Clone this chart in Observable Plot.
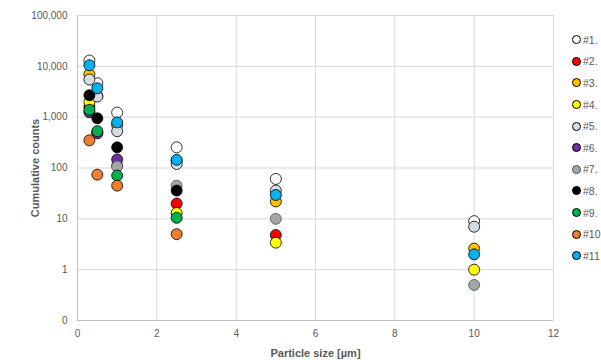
<!DOCTYPE html>
<html>
<head>
<meta charset="utf-8">
<script src="https://cdn.jsdelivr.net/npm/d3@7"></script>
<script src="https://cdn.jsdelivr.net/npm/@observablehq/plot@0.6"></script>
<style>
  body { margin: 0; background: #fff; }
  #wrap { position: relative; width: 601px; height: 360px; font-family: "Liberation Sans", Arial, sans-serif; }
  #legend { position: absolute; left: 572px; top: 29px; }
  .li { height: 21.6px; display: flex; align-items: center; font-size: 10.5px; color: #595959; }
  .mk { width: 7px; height: 7px; border-radius: 50%; border: 1px solid #000; margin-right: 2px; }
</style>
</head>
<body>
<div id="wrap"><div id="chart"></div><div id="legend"></div></div>
<script>
const sizes = [0.3, 0.5, 1, 2.5, 5, 10];
const seriesNames = ["#1.", "#2.", "#3.", "#4.", "#5.", "#6.", "#7.", "#8.", "#9.", "#10", "#11"];
const fills   = ["#ffffff", "#ff0000", "#ffc000", "#ffff00", "#d6dce4", "#7030a0", "#a5a5a5", "#000000", "#00b050", "#ed7d31", "#00b0f0"];
const strokes = ["#000", "#000", "#000", "#000", "#000", "#000", "#44546a", "#000", "#000", "#000", "#000"];
const s1  = [13000, 4650, 1230, 255, 61, 9];
const s2  = [1600, 500, 110, 20, 4.8, null];
const s3  = [7000, 2600, 700, 140, 22, 2.6];
const s4  = [2000, null, null, 13, 3.4, 1.0];
const s5  = [5500, 2550, 530, 120, 36, 7];
const s6  = [1250, 480, 147, null, null, null];
const s7  = [null, null, 107, 45, 10, 0.5];
const s8  = [2700, 950, 255, 36, null, null];
const s9  = [1400, 530, 71, 10.5, null, null];
const s10 = [350, 74, 45, 5, null, null];
const s11 = [10500, 3700, 790, 145, 29.5, 2.0];
const allSeries = [s1, s2, s3, s4, s5, s6, s7, s8, s9, s10, s11];
const yTicks = [0.1, 1, 10, 100, 1000, 10000, 100000];
const xTicks = [0, 2, 4, 6, 8, 10, 12];

const rows = [];
allSeries.forEach((vals, i) => vals.forEach((v, j) => {
  if (v != null) rows.push({series: seriesNames[i], idx: i, x: sizes[j], y: v});
}));

const fmt = d3.format(",.0f");
const plot = Plot.plot({
  width: 601, height: 360,
  marginLeft: 77, marginRight: 48, marginTop: 15, marginBottom: 40,
  style: {fontFamily: "Liberation Sans, Arial, sans-serif", fontSize: "10px", color: "#595959"},
  x: {domain: [0, 12], ticks: xTicks, tickSize: 0, tickPadding: 9, label: "Particle size [µm]", labelAnchor: "center", labelArrow: "none", labelOffset: 36},
  y: {type: "log", domain: [0.1, 100000], ticks: yTicks, tickFormat: fmt, tickSize: 0, tickPadding: 10, label: "Cumulative counts", labelAnchor: "center", labelArrow: "none", labelOffset: 46},
  marks: [
    Plot.gridY(yTicks, {stroke: "#d9d9d9", strokeOpacity: 1}),
    Plot.gridX(xTicks, {stroke: "#d9d9d9", strokeOpacity: 1}),
    Plot.ruleY([0.1], {stroke: "#bfbfbf"}),
    Plot.ruleX([0], {stroke: "#bfbfbf"}),
    Plot.dot(rows, {x: "x", y: "y", r: 5.5, fill: d => fills[d.idx], stroke: d => strokes[d.idx], strokeWidth: 0.8})
  ]
});
plot.querySelectorAll('[aria-label="x-axis label"] text, [aria-label="y-axis label"] text').forEach(t => { t.style.fontWeight = "bold"; t.style.fontSize = "11px"; });
document.getElementById("chart").appendChild(plot);

const legend = document.getElementById("legend");
seriesNames.forEach((n, i) => {
  const row = document.createElement("div");
  row.className = "li";
  const mk = document.createElement("span");
  mk.className = "mk";
  mk.style.background = fills[i];
  mk.style.borderColor = strokes[i];
  row.appendChild(mk);
  row.appendChild(document.createTextNode(n));
  legend.appendChild(row);
});
</script>
</body>
</html>
